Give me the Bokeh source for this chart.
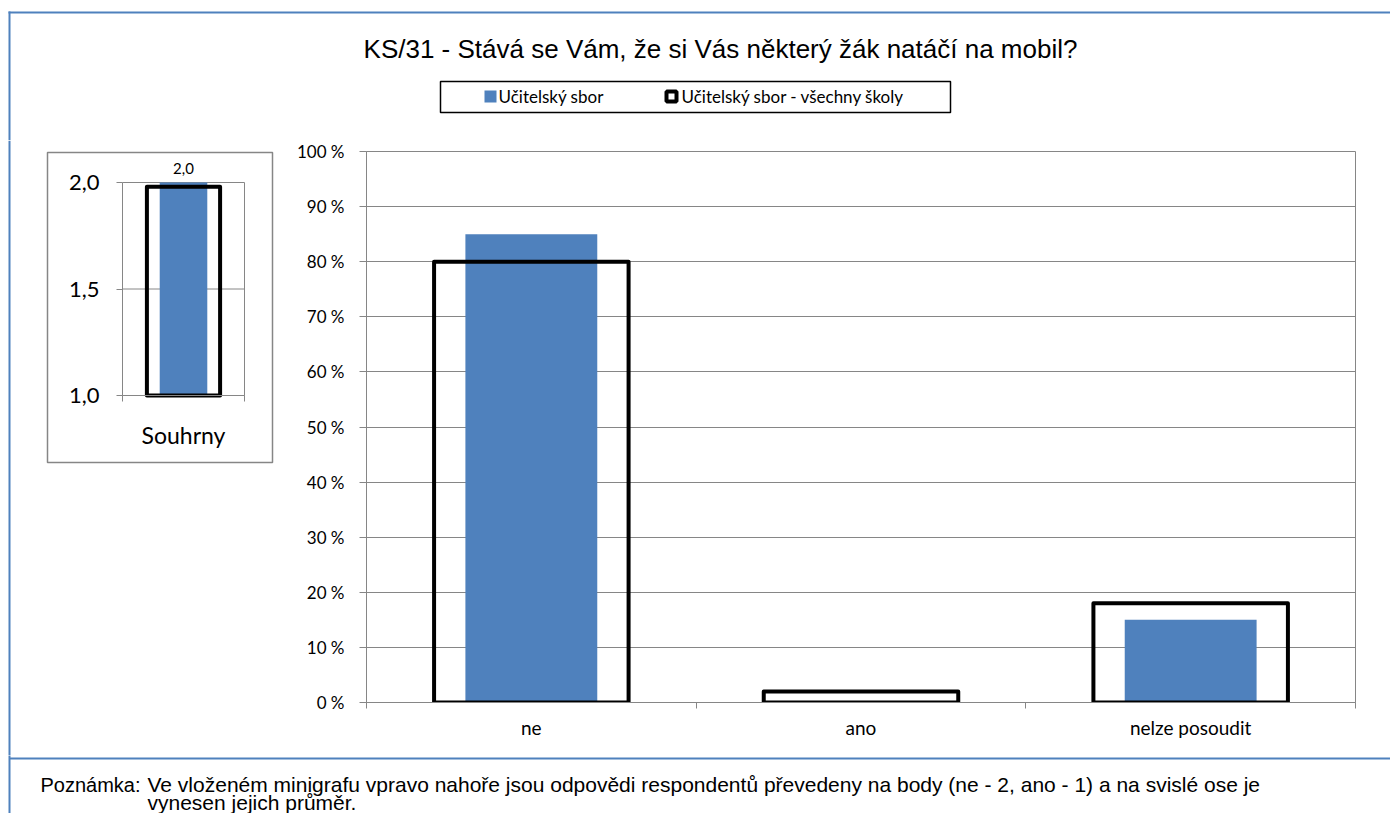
from bokeh.plotting import figure
from bokeh.layouts import row, column
from bokeh.models import (Range1d, FixedTicker, Label, BoxAnnotation, ColumnDataSource,
                          LabelSet, CustomJSTickFormatter)
from bokeh.embed import file_html
from bokeh.resources import INLINE
from bokeh.core.properties import value

# ---------------- data ----------------
chart_title = "KS/31 - Stává se Vám, že si Vás některý žák natáčí na mobil?"
series_names = ["Učitelský sbor", "Učitelský sbor - všechny školy"]
categories = ["ne", "ano", "nelze posoudit"]
school_pct = [85, 0, 15]
all_schools_pct = [80, 2, 18]
y_ticks = [0, 10, 20, 30, 40, 50, 60, 70, 80, 90, 100]

mini_categories = ["Souhrny"]
mini_school = [2.0]
mini_all_schools = [1.98]
mini_value_labels = ["2,0"]
mini_ticks = [1.0, 1.5, 2.0]

note_label = "Poznámka:"
note_lines = [
    "Ve vloženém minigrafu vpravo nahoře jsou odpovědi respondentů převedeny na body (ne - 2, ano - 1) a na svislé ose je",
    "vynesen jejich průměr.",
]

# ---------------- styles / geometry ----------------
BLUE = "#4F81BD"
FRAME_BLUE = "#4F81BD"
GRID = "#868686"
TICK_FONT = "Lato"
ARIAL = "Liberation Sans"
TOTAL_W = 1390
TOTAL_H = 813
HEAD_H = 140            # header strip: page rows 0..140
ROW_END = 755           # chart row: page rows 140..755
MINI_W = 288
FRAME_TOP = 151
FRAME_BOTTOM = 702
MINI_X0, MINI_X1 = 122, 244           # pixel columns of the mini plot area
MINI_PX_LOW, MINI_PX_HIGH = 395, 182  # pixel rows of the mini axis 1,0 and 2,0
ROW_H = ROW_END - HEAD_H


def base_fig(**kw):
    f = figure(output_backend="svg", toolbar_location=None, frame_align=False, title=None, **kw)
    f.background_fill_color = "white"
    f.border_fill_color = "white"
    return f


def solid_box(**kw):
    opts = dict(fill_alpha=1, line_color=None)
    opts.update(kw)
    return BoxAnnotation(**opts)


def outline_box(color, width, **kw):
    opts = dict(fill_alpha=0, line_color=color, line_alpha=1, line_width=width)
    opts.update(kw)
    return BoxAnnotation(**opts)


# ---------------- header (title + legend + outer frame) ----------------
header = base_fig(width=TOTAL_W, height=HEAD_H, x_range=Range1d(0, TOTAL_W), y_range=Range1d(HEAD_H, 0),
                  x_axis_type=None, y_axis_type=None, min_border=0)
header.outline_line_color = None
header.grid.visible = False
header.add_layout(solid_box(left=8, right=TOTAL_W + 5, top=11, bottom=13, fill_color=FRAME_BLUE))
header.add_layout(solid_box(left=8, right=10, top=11, bottom=HEAD_H + 10, fill_color=FRAME_BLUE))
header.add_layout(Label(x=720, y=48, text=chart_title, text_align="center", text_baseline="middle",
                        text_font=ARIAL, text_font_size="26px", text_color="black"))
header.add_layout(outline_box("black", 1.5, left=440, right=950, top=81, bottom=112))
header.add_layout(solid_box(left=484, right=496, top=90, bottom=102, fill_color=BLUE))
header.add_layout(Label(x=498, y=96, text=series_names[0], text_align="left", text_baseline="middle",
                        text_font=TICK_FONT, text_font_size="17px", text_color="black"))
header.add_layout(BoxAnnotation(left=666, right=676, top=91, bottom=101, fill_color="white", fill_alpha=1,
                                line_color="black", line_alpha=1, line_width=4))
header.add_layout(Label(x=681, y=96, text=series_names[1], text_align="left", text_baseline="middle",
                        text_font=TICK_FONT, text_font_size="17px", text_color="black"))

# ---------------- mini chart (frame = whole figure, axes at fixed locations) ----------------
lo, hi = mini_ticks[0], mini_ticks[-1]
ypx = (MINI_PX_LOW - MINI_PX_HIGH) / (hi - lo)
xpx = (MINI_X1 - MINI_X0) / len(mini_categories)
mini_y = Range1d(lo - (ROW_END - MINI_PX_LOW) / ypx, hi + (MINI_PX_HIGH - HEAD_H) / ypx)
mini_x = Range1d(-MINI_X0 / xpx, (MINI_W - MINI_X0) / xpx)

mini = base_fig(width=MINI_W, height=ROW_H, x_range=mini_x, y_range=mini_y, min_border=0,
                min_border_top=0, min_border_bottom=0, min_border_left=0, min_border_right=0)
mini.outline_line_color = None
mini.grid.visible = False

# grid lines and right edge of the mini plot area
for t in mini_ticks:
    mini.segment(x0=0, x1=len(mini_categories), y0=t, y1=t, line_color=GRID, line_width=1)
mini.segment(x0=len(mini_categories), x1=len(mini_categories), y0=lo, y1=hi, line_color=GRID, line_width=1)

mx = [i + 0.5 for i in range(len(mini_categories))]
msrc = ColumnDataSource(dict(x=mx, school=mini_school, alls=mini_all_schools, lab=mini_value_labels))
mini.vbar(x="x", top="school", bottom=lo, width=0.39, source=msrc, fill_color=BLUE, line_color=None)
mini.vbar(x="x", top="alls", bottom=lo, width=0.6, source=msrc, fill_color=None,
          line_color="black", line_width=4, line_join="round")
mini.add_layout(LabelSet(x="x", y="school", text="lab", source=msrc, y_offset=9,
                         text_align="center", text_baseline="bottom",
                         text_font=value(TICK_FONT), text_font_size="15px", text_color="black"))

mini.yaxis.fixed_location = 0
mini.yaxis.bounds = (lo, hi)
mini.yaxis.ticker = FixedTicker(ticks=mini_ticks)
mini.yaxis.formatter = CustomJSTickFormatter(code="return tick.toFixed(1).replace('.', ',');")
mini.yaxis.major_label_text_font = TICK_FONT
mini.yaxis.major_label_text_font_size = "22px"
mini.yaxis.major_label_text_color = "black"
mini.yaxis.major_tick_out = 6
mini.yaxis.major_tick_in = 0
mini.yaxis.major_label_standoff = 17
mini.yaxis.minor_tick_line_color = None
mini.yaxis.axis_line_color = GRID
mini.yaxis.major_tick_line_color = GRID

mini.xaxis.fixed_location = lo
mini.xaxis.bounds = (0, len(mini_categories))
mini.xaxis.ticker = FixedTicker(ticks=mx, minor_ticks=list(range(len(mini_categories) + 1)))
mini.xaxis.formatter = CustomJSTickFormatter(args=dict(labels=mini_categories),
                                             code="const i = Math.floor(tick); return (i >= 0 && i < labels.length) ? labels[i] : '';")
mini.xaxis.major_label_text_font = TICK_FONT
mini.xaxis.major_label_text_font_size = "23px"
mini.xaxis.major_label_text_color = "black"
mini.xaxis.major_tick_line_color = None
mini.xaxis.major_tick_out = 0
mini.xaxis.major_tick_in = 0
mini.xaxis.minor_tick_out = 6
mini.xaxis.minor_tick_in = 0
mini.xaxis.minor_tick_line_color = GRID
mini.xaxis.axis_line_color = GRID
mini.xaxis.major_label_standoff = 19


def mini_sy(py):
    return ROW_END - py   # screen units: y up from the frame bottom


SCREEN = dict(left_units="screen", right_units="screen", top_units="screen", bottom_units="screen")
mini.add_layout(outline_box(GRID, 1.5, left=47, right=272, top=mini_sy(152), bottom=mini_sy(462), **SCREEN))
# left edge of the outer frame: spans the full height of this figure
mini.add_layout(solid_box(left=8, right=10, left_units="screen", right_units="screen", fill_color=FRAME_BLUE))

# ---------------- main chart ----------------
MAIN_W = TOTAL_W - MINI_W
main = base_fig(width=MAIN_W, height=ROW_H, x_range=Range1d(0, len(categories)), y_range=Range1d(0, 100),
                min_border_left=366 - MINI_W, min_border_right=TOTAL_W - 1355,
                min_border_top=FRAME_TOP - HEAD_H, min_border_bottom=ROW_END - FRAME_BOTTOM)
main.outline_line_color = GRID
main.outline_line_width = 1

xs = [i + 0.5 for i in range(len(categories))]
src = ColumnDataSource(dict(x=xs, school=school_pct, alls=all_schools_pct))
main.vbar(x="x", top="school", bottom=0, width=0.4, source=src, fill_color=BLUE, line_color=None)
main.vbar(x="x", top="alls", bottom=0, width=0.59, source=src, fill_color=None,
          line_color="black", line_width=4, line_join="round")

main.yaxis.ticker = FixedTicker(ticks=y_ticks)
main.yaxis.formatter = CustomJSTickFormatter(code="return tick.toFixed(0) + '\u00a0%';")
main.yaxis.major_label_text_font = TICK_FONT
main.yaxis.major_label_text_font_size = "17px"
main.yaxis.major_label_text_color = "black"
main.yaxis.major_tick_out = 7
main.yaxis.major_tick_in = 0
main.yaxis.major_label_standoff = 15
main.yaxis.minor_tick_line_color = None
main.yaxis.axis_line_color = GRID
main.yaxis.major_tick_line_color = GRID

main.xaxis.ticker = FixedTicker(ticks=xs, minor_ticks=list(range(len(categories) + 1)))
main.xaxis.formatter = CustomJSTickFormatter(args=dict(labels=categories),
                                             code="const i = Math.floor(tick); return (i >= 0 && i < labels.length) ? labels[i] : '';")
main.xaxis.major_label_text_font = TICK_FONT
main.xaxis.major_label_text_font_size = "19px"
main.xaxis.major_label_text_color = "black"
main.xaxis.major_tick_line_color = None
main.xaxis.major_tick_out = 0
main.xaxis.major_tick_in = 0
main.xaxis.minor_tick_out = 6
main.xaxis.minor_tick_in = 0
main.xaxis.minor_tick_line_color = GRID
main.xaxis.axis_line_color = GRID
main.xaxis.major_label_standoff = 7

main.ygrid.ticker = FixedTicker(ticks=y_ticks)
main.ygrid.grid_line_color = GRID
main.xgrid.visible = False

# ---------------- footer ----------------
FOOT_H = TOTAL_H - ROW_END
footer = base_fig(width=TOTAL_W, height=FOOT_H, x_range=Range1d(0, TOTAL_W), y_range=Range1d(TOTAL_H, ROW_END),
                  x_axis_type=None, y_axis_type=None, min_border=0)
footer.outline_line_color = None
footer.grid.visible = False
footer.add_layout(solid_box(left=8, right=10, top=ROW_END - 10, bottom=TOTAL_H + 5, fill_color=FRAME_BLUE))
footer.add_layout(solid_box(left=9, right=TOTAL_W + 5, top=757, bottom=759, fill_color=FRAME_BLUE))
footer.add_layout(Label(x=40, y=784, text=note_label, text_align="left", text_baseline="middle",
                        text_font=ARIAL, text_font_size="20px", text_color="black"))
for i, line in enumerate(note_lines):
    footer.add_layout(Label(x=147, y=784 + 18 * i, text=line, text_align="left", text_baseline="middle",
                            text_font=ARIAL, text_font_size="21px", text_color="black"))

layout = column(header, row(mini, main, spacing=0), footer, spacing=0)

open("out.html", "w").write(file_html(layout, INLINE))
